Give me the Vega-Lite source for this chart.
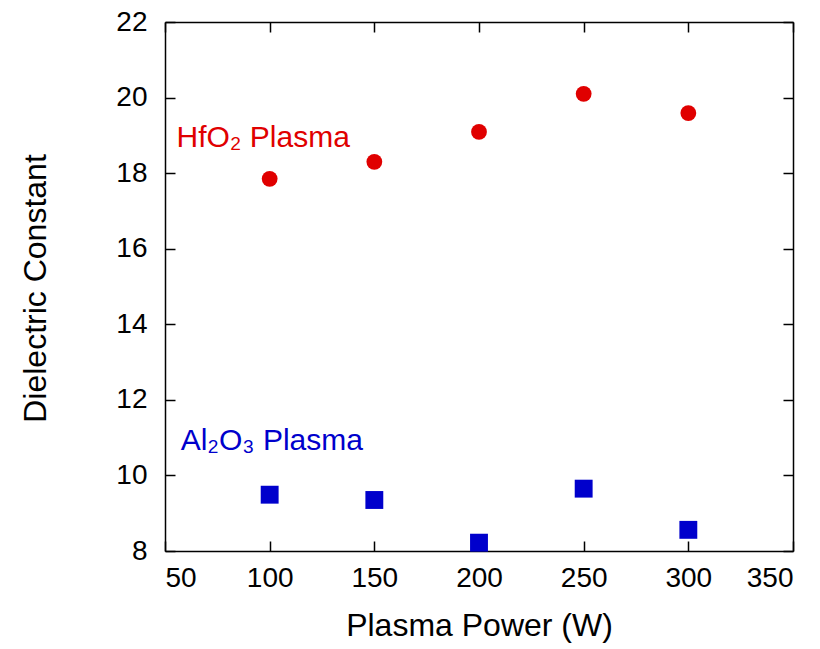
{
  "$schema": "https://vega.github.io/schema/vega-lite/v6.json",
  "width": 628,
  "height": 529,
  "autosize": {"type": "none"},
  "padding": {"left": 165, "top": 22, "right": 27, "bottom": 98},
  "background": "white",
  "config": {
    "font": "Liberation Sans",
    "view": {"stroke": null},
    "axis": {
      "grid": false,
      "domainColor": "black",
      "domainWidth": 1.5,
      "tickColor": "black",
      "tickWidth": 1.5,
      "tickSize": -10,
      "labelColor": "black",
      "labelFont": "Liberation Sans",
      "labelFontSize": 28,
      "titleColor": "black",
      "titleFont": "Liberation Sans",
      "titleFontSize": 32,
      "titleFontWeight": "normal"
    }
  },
  "datasets": {
    "measurements": [
      {"power": 100, "k": 17.85, "film": "HfO2"},
      {"power": 150, "k": 18.3, "film": "HfO2"},
      {"power": 200, "k": 19.09, "film": "HfO2"},
      {"power": 250, "k": 20.1, "film": "HfO2"},
      {"power": 300, "k": 19.59, "film": "HfO2"},
      {"power": 100, "k": 9.49, "film": "Al2O3"},
      {"power": 150, "k": 9.35, "film": "Al2O3"},
      {"power": 200, "k": 8.22, "film": "Al2O3"},
      {"power": 250, "k": 9.65, "film": "Al2O3"},
      {"power": 300, "k": 8.56, "film": "Al2O3"}
    ],
    "labels": [
      {"power": 55.5, "k": 18.69, "film": "HfO2", "text": "HfO₂ Plasma"},
      {"power": 57.5, "k": 10.68, "film": "Al2O3", "text": "Al₂O₃ Plasma"}
    ]
  },
  "resolve": {"axis": {"x": "independent", "y": "independent"}},
  "layer": [
    {
      "data": {"name": "measurements"},
      "mark": {"type": "point", "filled": true, "opacity": 1},
      "encoding": {
        "x": {
          "field": "power", "type": "quantitative",
          "scale": {"domain": [50, 350], "nice": false, "zero": false},
          "axis": {
            "orient": "bottom", "values": [50, 100, 150, 200, 250, 300, 350],
            "title": "Plasma Power (W)", "labelPadding": 23,
            "titleY": 84, "titleBaseline": "alphabetic"
          }
        },
        "y": {
          "field": "k", "type": "quantitative",
          "scale": {"domain": [8, 22], "nice": false, "zero": false},
          "axis": {
            "orient": "left", "values": [8, 10, 12, 14, 16, 18, 20, 22],
            "title": "Dielectric Constant", "labelPadding": 28,
            "titleX": -120, "titleY": 266, "titleBaseline": "alphabetic"
          }
        },
        "color": {
          "field": "film", "type": "nominal",
          "scale": {"domain": ["HfO2", "Al2O3"], "range": ["#e00000", "#0000cc"]},
          "legend": null
        },
        "shape": {
          "field": "film", "type": "nominal",
          "scale": {"domain": ["HfO2", "Al2O3"], "range": ["circle", "square"]},
          "legend": null
        },
        "size": {
          "field": "film", "type": "nominal",
          "scale": {"domain": ["HfO2", "Al2O3"], "range": [250, 320]},
          "legend": null
        }
      }
    },
    {
      "data": {"name": "labels"},
      "mark": {"type": "text", "align": "left", "baseline": "alphabetic", "fontSize": 30, "font": "Liberation Sans"},
      "encoding": {
        "x": {"field": "power", "type": "quantitative", "axis": null},
        "y": {"field": "k", "type": "quantitative", "axis": null},
        "text": {"field": "text"},
        "color": {"field": "film", "type": "nominal", "legend": null}
      }
    },
    {
      "data": {"name": "measurements"},
      "mark": {"type": "point", "opacity": 0},
      "encoding": {
        "x": {
          "field": "power", "type": "quantitative",
          "axis": {"orient": "top", "values": [50, 100, 150, 200, 250, 300, 350], "labels": false, "title": null}
        },
        "y": {
          "field": "k", "type": "quantitative",
          "axis": {"orient": "right", "values": [8, 10, 12, 14, 16, 18, 20, 22], "labels": false, "title": null}
        }
      }
    }
  ]
}
